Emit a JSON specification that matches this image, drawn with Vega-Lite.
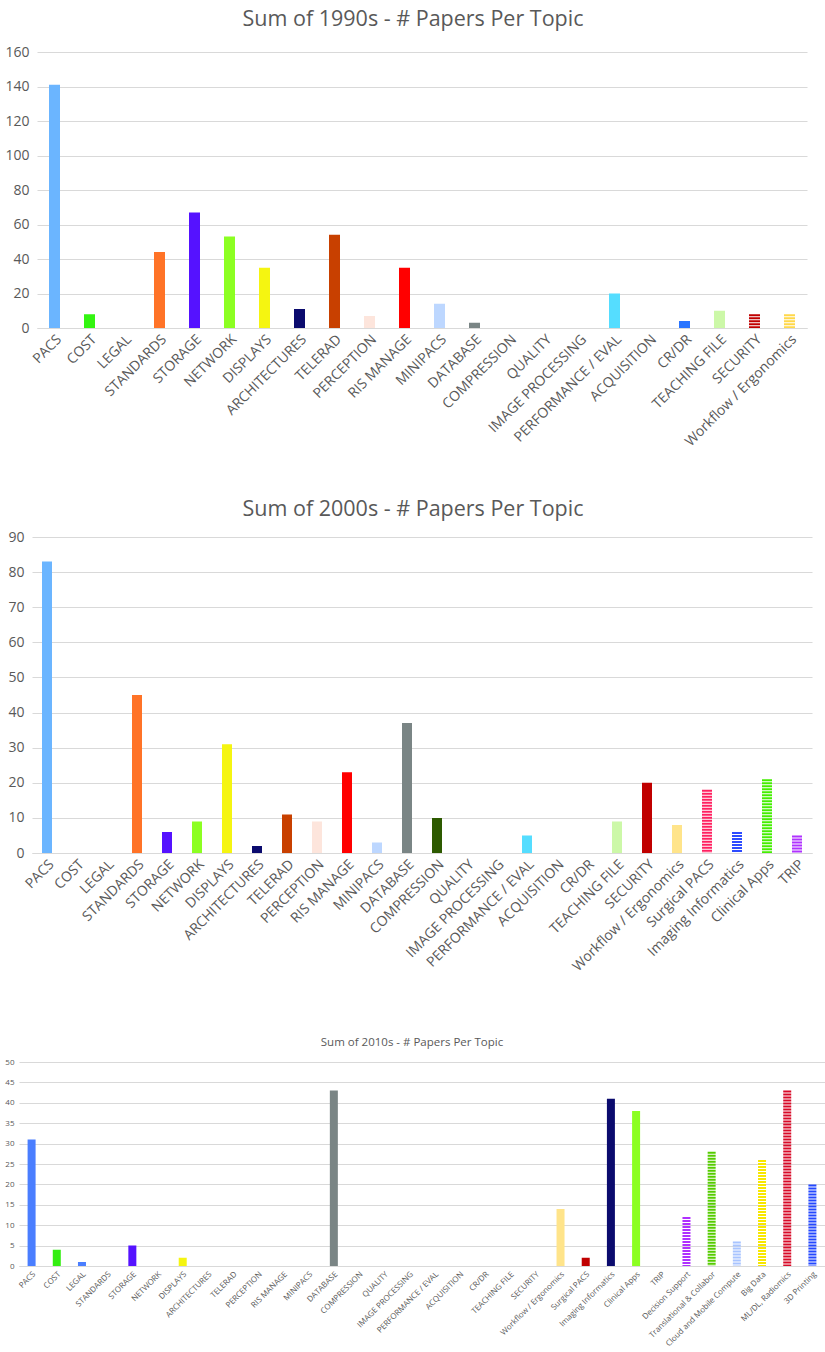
{
  "$schema": "https://vega.github.io/schema/vega-lite/v6.json",
  "background": "white",
  "padding": {"left": 4, "top": 8, "right": 5, "bottom": 5},
  "bounds": "flush",
  "center": true,
  "spacing": 209,
  "config": {
    "view": {"stroke": null},
    "font": "Open Sans",
    "axis": {"labelColor": "#595959", "gridColor": "#D9D9D9", "domainColor": "#D9D9D9", "ticks": false, "title": null, "labelFont": "Open Sans"},
    "title": {"color": "#595959", "fontWeight": "normal", "font": "Open Sans", "frame": "group"}
  },
  "data": {
    "values": [
      {"decade": "1990s", "topic": "PACS", "papers": 141},
      {"decade": "1990s", "topic": "COST", "papers": 8},
      {"decade": "1990s", "topic": "LEGAL", "papers": 0},
      {"decade": "1990s", "topic": "STANDARDS", "papers": 44},
      {"decade": "1990s", "topic": "STORAGE", "papers": 67},
      {"decade": "1990s", "topic": "NETWORK", "papers": 53},
      {"decade": "1990s", "topic": "DISPLAYS", "papers": 35},
      {"decade": "1990s", "topic": "ARCHITECTURES", "papers": 11},
      {"decade": "1990s", "topic": "TELERAD", "papers": 54},
      {"decade": "1990s", "topic": "PERCEPTION", "papers": 7},
      {"decade": "1990s", "topic": "RIS MANAGE", "papers": 35},
      {"decade": "1990s", "topic": "MINIPACS", "papers": 14},
      {"decade": "1990s", "topic": "DATABASE", "papers": 3},
      {"decade": "1990s", "topic": "COMPRESSION", "papers": 0},
      {"decade": "1990s", "topic": "QUALITY", "papers": 0},
      {"decade": "1990s", "topic": "IMAGE PROCESSING", "papers": 0},
      {"decade": "1990s", "topic": "PERFORMANCE / EVAL", "papers": 20},
      {"decade": "1990s", "topic": "ACQUISITION", "papers": 0},
      {"decade": "1990s", "topic": "CR/DR", "papers": 4},
      {"decade": "1990s", "topic": "TEACHING FILE", "papers": 10},
      {"decade": "1990s", "topic": "SECURITY", "papers": 8},
      {"decade": "1990s", "topic": "Workflow / Ergonomics", "papers": 8},
      {"decade": "2000s", "topic": "PACS", "papers": 83},
      {"decade": "2000s", "topic": "COST", "papers": 0},
      {"decade": "2000s", "topic": "LEGAL", "papers": 0},
      {"decade": "2000s", "topic": "STANDARDS", "papers": 45},
      {"decade": "2000s", "topic": "STORAGE", "papers": 6},
      {"decade": "2000s", "topic": "NETWORK", "papers": 9},
      {"decade": "2000s", "topic": "DISPLAYS", "papers": 31},
      {"decade": "2000s", "topic": "ARCHITECTURES", "papers": 2},
      {"decade": "2000s", "topic": "TELERAD", "papers": 11},
      {"decade": "2000s", "topic": "PERCEPTION", "papers": 9},
      {"decade": "2000s", "topic": "RIS MANAGE", "papers": 23},
      {"decade": "2000s", "topic": "MINIPACS", "papers": 3},
      {"decade": "2000s", "topic": "DATABASE", "papers": 37},
      {"decade": "2000s", "topic": "COMPRESSION", "papers": 10},
      {"decade": "2000s", "topic": "QUALITY", "papers": 0},
      {"decade": "2000s", "topic": "IMAGE PROCESSING", "papers": 0},
      {"decade": "2000s", "topic": "PERFORMANCE / EVAL", "papers": 5},
      {"decade": "2000s", "topic": "ACQUISITION", "papers": 0},
      {"decade": "2000s", "topic": "CR/DR", "papers": 0},
      {"decade": "2000s", "topic": "TEACHING FILE", "papers": 9},
      {"decade": "2000s", "topic": "SECURITY", "papers": 20},
      {"decade": "2000s", "topic": "Workflow / Ergonomics", "papers": 8},
      {"decade": "2000s", "topic": "Surgical PACS", "papers": 18},
      {"decade": "2000s", "topic": "Imaging Informatics", "papers": 6},
      {"decade": "2000s", "topic": "Clinical Apps", "papers": 21},
      {"decade": "2000s", "topic": "TRIP", "papers": 5},
      {"decade": "2010s", "topic": "PACS", "papers": 31},
      {"decade": "2010s", "topic": "COST", "papers": 4},
      {"decade": "2010s", "topic": "LEGAL", "papers": 1},
      {"decade": "2010s", "topic": "STANDARDS", "papers": 0},
      {"decade": "2010s", "topic": "STORAGE", "papers": 5},
      {"decade": "2010s", "topic": "NETWORK", "papers": 0},
      {"decade": "2010s", "topic": "DISPLAYS", "papers": 2},
      {"decade": "2010s", "topic": "ARCHITECTURES", "papers": 0},
      {"decade": "2010s", "topic": "TELERAD", "papers": 0},
      {"decade": "2010s", "topic": "PERCEPTION", "papers": 0},
      {"decade": "2010s", "topic": "RIS MANAGE", "papers": 0},
      {"decade": "2010s", "topic": "MINIPACS", "papers": 0},
      {"decade": "2010s", "topic": "DATABASE", "papers": 43},
      {"decade": "2010s", "topic": "COMPRESSION", "papers": 0},
      {"decade": "2010s", "topic": "QUALITY", "papers": 0},
      {"decade": "2010s", "topic": "IMAGE PROCESSING", "papers": 0},
      {"decade": "2010s", "topic": "PERFORMANCE / EVAL", "papers": 0},
      {"decade": "2010s", "topic": "ACQUISITION", "papers": 0},
      {"decade": "2010s", "topic": "CR/DR", "papers": 0},
      {"decade": "2010s", "topic": "TEACHING FILE", "papers": 0},
      {"decade": "2010s", "topic": "SECURITY", "papers": 0},
      {"decade": "2010s", "topic": "Workflow / Ergonomics", "papers": 14},
      {"decade": "2010s", "topic": "Surgical PACS", "papers": 2},
      {"decade": "2010s", "topic": "Imaging Informatics", "papers": 41},
      {"decade": "2010s", "topic": "Clinical Apps", "papers": 38},
      {"decade": "2010s", "topic": "TRIP", "papers": 0},
      {"decade": "2010s", "topic": "Decision Support", "papers": 12},
      {"decade": "2010s", "topic": "Translational & Collabor", "papers": 28},
      {"decade": "2010s", "topic": "Cloud and Mobile Compute", "papers": 6},
      {"decade": "2010s", "topic": "Big Data", "papers": 26},
      {"decade": "2010s", "topic": "ML/DL, Radiomics", "papers": 43},
      {"decade": "2010s", "topic": "3D Printing", "papers": 20}
    ]
  },
  "resolve": {"scale": {"x": "independent", "y": "independent", "color": "independent", "strokeDash": "independent"}},
  "vconcat": [
    {
      "title": {"text": "Sum of 1990s - # Papers Per Topic", "fontSize": 21.5, "offset": 15, "dx": -9},
      "width": 770,
      "height": 276,
      "transform": [{"filter": "datum.decade === '1990s'"}],
      "mark": {"type": "rule", "strokeWidth": 11, "strokeCap": "butt"},
      "encoding": {
        "x": {"field": "topic", "type": "nominal", "sort": null,
          "axis": {"labelAngle": -45, "labelFontSize": 14, "labelPadding": 4, "labelOverlap": false, "labelLimit": 300, "grid": false}},
        "y": {"field": "papers", "type": "quantitative", "scale": {"domain": [0, 160]},
          "axis": {"values": [0, 20, 40, 60, 80, 100, 120, 140, 160], "domain": false, "grid": true, "labelFontSize": 14, "labelPadding": 8}},
        "y2": {"datum": 0},
        "color": {"field": "topic", "type": "nominal", "legend": null,
          "scale": {
            "domain": ["PACS", "COST", "STANDARDS", "STORAGE", "NETWORK", "DISPLAYS", "ARCHITECTURES", "TELERAD", "PERCEPTION", "RIS MANAGE", "MINIPACS", "DATABASE", "PERFORMANCE / EVAL", "CR/DR", "TEACHING FILE", "SECURITY", "Workflow / Ergonomics"],
            "range": ["#6BB5FF", "#33F511", "#FF7327", "#5512FF", "#8CFF22", "#F5F511", "#0B0B6E", "#C84000", "#FDE5DC", "#FF0000", "#BDD7FF", "#7A8585", "#55DDFF", "#2A75FF", "#CCF8A8", "#C00000", "#FFD84A"]
          }},
        "strokeDash": {"condition": {"test": "indexof(['SECURITY', 'Workflow / Ergonomics'], datum.topic) >= 0", "value": [2, 1]}, "value": [1, 0]}
      }
    },
    {
      "title": {"text": "Sum of 2000s - # Papers Per Topic", "fontSize": 21.5, "offset": 10, "dx": -9},
      "width": 780,
      "height": 316,
      "transform": [{"filter": "datum.decade === '2000s'"}],
      "mark": {"type": "rule", "strokeWidth": 10, "strokeCap": "butt"},
      "encoding": {
        "x": {"field": "topic", "type": "nominal", "sort": null,
          "axis": {"labelAngle": -45, "labelFontSize": 14, "labelPadding": 4, "labelOverlap": false, "labelLimit": 300, "grid": false}},
        "y": {"field": "papers", "type": "quantitative", "scale": {"domain": [0, 90]},
          "axis": {"values": [0, 10, 20, 30, 40, 50, 60, 70, 80, 90], "domain": false, "grid": true, "labelFontSize": 14, "labelPadding": 8}},
        "y2": {"datum": 0},
        "color": {"field": "topic", "type": "nominal", "legend": null,
          "scale": {
            "domain": ["PACS", "STANDARDS", "STORAGE", "NETWORK", "DISPLAYS", "ARCHITECTURES", "TELERAD", "PERCEPTION", "RIS MANAGE", "MINIPACS", "DATABASE", "COMPRESSION", "PERFORMANCE / EVAL", "TEACHING FILE", "SECURITY", "Workflow / Ergonomics", "Surgical PACS", "Imaging Informatics", "Clinical Apps", "TRIP"],
            "range": ["#6BB5FF", "#FF7327", "#5512FF", "#8CFF22", "#F5F511", "#0B0B6E", "#C84000", "#FDE5DC", "#FF0000", "#BDD7FF", "#7A8585", "#2D5A00", "#55DDFF", "#CCF8A8", "#C00000", "#FFE48A", "#FF2060", "#2D4BFF", "#44EE00", "#B032FF"]
          }},
        "strokeDash": {"condition": {"test": "indexof(['Surgical PACS', 'Imaging Informatics', 'Clinical Apps', 'TRIP'], datum.topic) >= 0", "value": [2, 1]}, "value": [1, 0]}
      }
    },
    {
      "title": {"text": "Sum of 2010s - # Papers Per Topic", "fontSize": 11.5, "offset": 10, "dx": -10},
      "width": 806,
      "height": 204,
      "transform": [{"filter": "datum.decade === '2010s'"}],
      "mark": {"type": "rule", "strokeWidth": 8, "strokeCap": "butt"},
      "encoding": {
        "x": {"field": "topic", "type": "nominal", "sort": null,
          "axis": {"labelAngle": -45, "labelFontSize": 8, "labelPadding": 4, "labelOverlap": false, "labelLimit": 300, "grid": false}},
        "y": {"field": "papers", "type": "quantitative", "scale": {"domain": [0, 50]},
          "axis": {"values": [0, 5, 10, 15, 20, 25, 30, 35, 40, 45, 50], "domain": false, "grid": true, "labelFontSize": 8, "labelPadding": 5}},
        "y2": {"datum": 0},
        "color": {"field": "topic", "type": "nominal", "legend": null,
          "scale": {
            "domain": ["PACS", "COST", "LEGAL", "STORAGE", "DISPLAYS", "DATABASE", "Workflow / Ergonomics", "Surgical PACS", "Imaging Informatics", "Clinical Apps", "Decision Support", "Translational & Collabor", "Cloud and Mobile Compute", "Big Data", "ML/DL, Radiomics", "3D Printing"],
            "range": ["#4A7EFF", "#33EE11", "#4A7EFF", "#5512FF", "#F5F511", "#7A8585", "#FFE48A", "#C00000", "#0B0B6E", "#8CFF22", "#B030FF", "#55CC00", "#A8C4FF", "#F8E800", "#D80A28", "#2448FF"]
          }},
        "strokeDash": {"condition": {"test": "indexof(['Decision Support', 'Translational & Collabor', 'Cloud and Mobile Compute', 'Big Data', 'ML/DL, Radiomics', '3D Printing'], datum.topic) >= 0", "value": [2, 1]}, "value": [1, 0]}
      }
    }
  ]
}
